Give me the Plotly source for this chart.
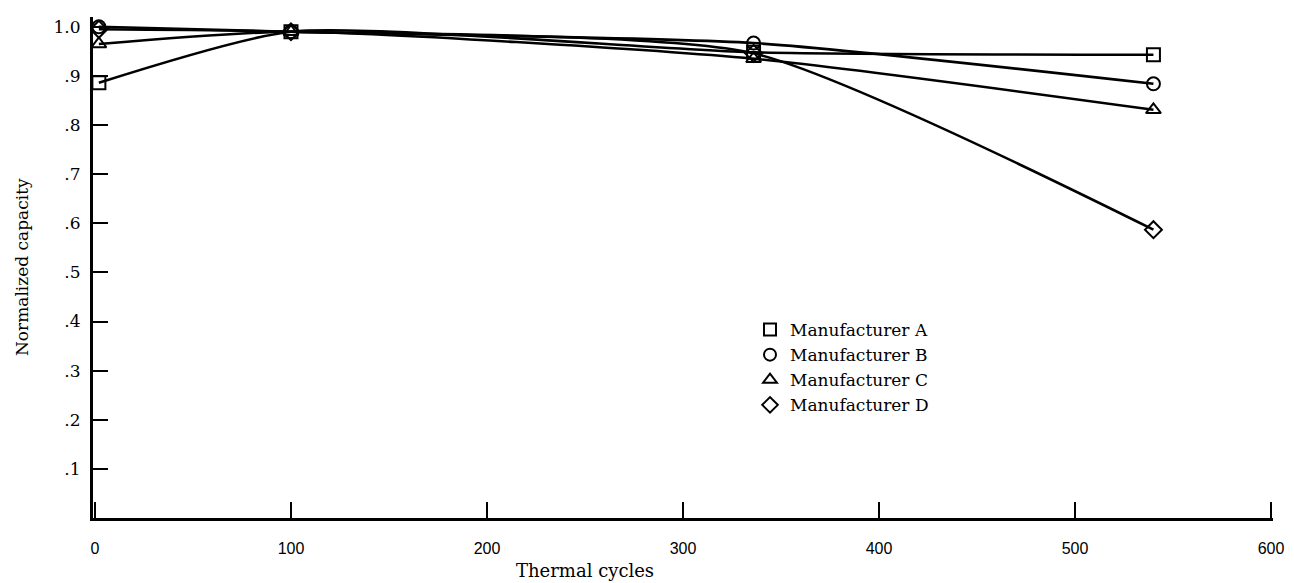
import plotly.graph_objects as go

cycles = [2, 100, 336, 540]
series_names = ["Manufacturer A", "Manufacturer B", "Manufacturer C", "Manufacturer D"]
cap_a = [0.886, 0.99, 0.948, 0.943]
cap_b = [1.0, 0.99, 0.967, 0.884]
cap_c = [0.965, 0.99, 0.935, 0.831]
cap_d = [0.995, 0.99, 0.946, 0.587]
symbols = ["square-open", "circle-open", "triangle-up-open", "diamond-open"]

x_ticks = [0, 100, 200, 300, 400, 500, 600]
x_ticktext = ["0", "100", "200", "300", "400", "500", "600"]
y_ticks = [0.1, 0.2, 0.3, 0.4, 0.5, 0.6, 0.7, 0.8, 0.9, 1.0]
y_ticktext = [".1", ".2", ".3", ".4", ".5", ".6", ".7", ".8", ".9", "1.0"]

fig = go.Figure()
for name, vals, sym in zip(series_names, [cap_a, cap_b, cap_c, cap_d], symbols):
    fig.add_trace(go.Scatter(
        x=cycles, y=vals, mode="lines+markers", name=name, showlegend=False,
        line=dict(color="black", width=2.6, shape="spline", smoothing=0.6),
        marker=dict(symbol=sym, size=13, color="black", line=dict(width=2, color="black")),
    ))
    fig.add_trace(go.Scatter(
        x=[None], y=[None], mode="markers", name=name, showlegend=True,
        marker=dict(symbol=sym, size=12, color="black", line=dict(width=2, color="black")),
    ))

serif = "DejaVu Serif"
fig.update_layout(
    width=1294, height=583,
    margin=dict(l=93, r=21, t=17, b=65, autoexpand=False),
    paper_bgcolor="white", plot_bgcolor="white",
    showlegend=True,
    legend=dict(x=(750 - 93) / 1180, y=(518 - 312) / 501, xanchor="left", yanchor="top",
                font=dict(family=serif, size=17, color="black"),
                bgcolor="rgba(0,0,0,0)", itemwidth=30, tracegroupgap=0,
                itemsizing="constant"),
    xaxis=dict(range=[-1, 601], tickvals=x_ticks, ticktext=x_ticktext,
               automargin=False,
               showgrid=False, zeroline=False, showline=True, linewidth=3,
               linecolor="black", ticks="inside", ticklen=16, tickwidth=2,
               tickcolor="black", ticklabelstandoff=14,
               tickfont=dict(family="Liberation Sans", size=16, color="black")),
    yaxis=dict(range=[0, 1.02], tickvals=y_ticks, ticktext=y_ticktext,
               automargin=False,
               showgrid=False, zeroline=False, showline=True, linewidth=3,
               linecolor="black", ticks="inside", ticklen=15, tickwidth=2,
               tickcolor="black", ticklabelstandoff=6,
               tickfont=dict(family=serif, size=17, color="black")),
    annotations=[
        dict(text="Thermal cycles", x=250, y=-0.105, xref="x", yref="paper",
             showarrow=False, font=dict(family=serif, size=18, color="black"),
             xanchor="center", yanchor="middle"),
        dict(text="Normalized capacity", x=-0.0605, y=0.5, xref="paper", yref="paper",
             showarrow=False, textangle=-90,
             font=dict(family=serif, size=17, color="black"),
             xanchor="center", yanchor="middle"),
    ],
)

fig.write_html("out.html", config={"displayModeBar": False},
               post_script="document.body.style.margin='0';document.body.style.padding='0';")
